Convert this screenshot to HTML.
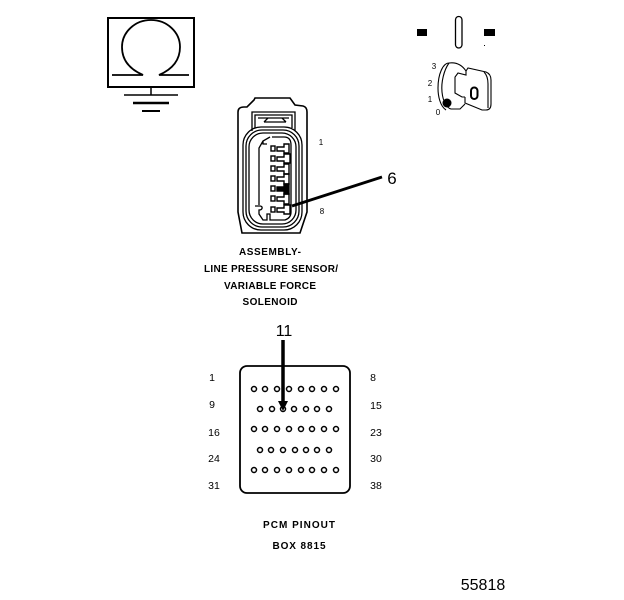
<!DOCTYPE html>
<html><head><meta charset="utf-8"><style>
html,body{margin:0;padding:0;background:#fff}
svg{display:block}
text{font-family:"Liberation Sans",sans-serif;fill:#000;stroke:none}
.l{font-size:10px;font-weight:bold;text-anchor:middle}
.n{font-size:10.500px;text-anchor:middle}
.s{font-size:8px;text-anchor:middle}
</style></head><body>
<svg width="624" height="600" viewBox="0 0 624 600" fill="none" stroke="#000">
<!-- Omega box -->
<rect x="108" y="18" width="86" height="69" stroke-width="2"/>
<path d="M112 75H143Q122 66 122 47A29 27 0 0 1 180 47Q180 66 159 75H189" stroke-width="1.800"/>
<path d="M151 87V95M124 95H178" stroke-width="1.500"/>
<path d="M133 103H169" stroke-width="2.500"/>
<path d="M142 111H160" stroke-width="2"/>
<!-- Key switch -->
<rect x="417" y="29" width="10" height="7" fill="#000" stroke="none"/>
<rect x="484" y="29" width="11" height="7" fill="#000" stroke="none"/>
<rect x="455.500" y="16.500" width="6.500" height="31.500" rx="3.200" stroke-width="1.300"/>
<rect x="484" y="45" width="1" height="1" fill="#000" stroke="none"/>
<g stroke-width="1.100">
<path d="M446 110C440 106 438 96 438 88C438 74 443 63 449 63C456 62 462 65 466 71"/>
<path d="M449 63C444 70 441 82 442 92C443 102 447 108 451 109L460 109L465 104"/>
<path d="M466 71L466 75L458 73L455 77V93L462 97H465"/>
<path d="M466 71L468 68L486 72Q491 74 491 80V104Q491 110 486 110H482L465 103V97"/>
<path d="M484 72Q488 76 488 84V108"/>
<rect x="471" y="87.500" width="6.500" height="11.500" rx="3.200" stroke-width="2"/>
</g>
<circle cx="447" cy="103" r="4.500" fill="#000" stroke="none"/>
<text class="s" x="434" y="69">3</text><text class="s" x="430" y="86">2</text>
<text class="s" x="430" y="102">1</text><text class="s" x="438" y="115">0</text>
<!-- Connector -->
<path d="M238 112Q238 107 244 107H247L254 100L255 98H290L295 105L303 106Q307 107 307 112V212L300 233H242L238 212Z" stroke-width="1.600"/>
<g stroke-width="1.300">
<path d="M252 131V112H295V131"/>
<path d="M255 128V115H292V128"/>
<path d="M258 118H289M264 122L268 118M282 118L286 122M264 122H286"/>
<rect x="243" y="127" width="59" height="103" rx="18"/>
<rect x="246" y="130" width="53" height="97" rx="16"/>
<rect x="249" y="133" width="47" height="91" rx="14"/>
<path d="M270 137L263 141V144H267M263 141L259 148V205M255 206H260C263 206 263 210 259 210V214L263 220H267V214H270V220H285Q291 218 291 212V145Q291 137 284 137H272"/>
</g>
<g stroke-width="1.400">
<rect x="271" y="146" width="4" height="5"/><path d="M277 147H284V144H289V153H284V151H277Z"/>
<rect x="271" y="156" width="4" height="5"/><path d="M277 157H284V154H290V163H284V161H277Z"/>
<rect x="271" y="166" width="4" height="5"/><path d="M277 167H284V164H289V174H284V171H277Z"/>
<rect x="271" y="176" width="4" height="5"/><path d="M277 177H284V174H289V184H284V181H277Z"/>
<rect x="271" y="186" width="4" height="5"/><path d="M277 187H284V184H289V194H284V191H277Z" fill="#000"/>
<rect x="271" y="196" width="4" height="5"/><path d="M277 197H284V194H289V204H284V201H277Z"/>
<rect x="271" y="207" width="4" height="5"/><path d="M277 208H284V205H290V214H284V212H277Z"/>
</g>
<path d="M292 206L382 177" stroke-width="2.800"/>
<text x="392" y="184" style="font-size:17px" text-anchor="middle">6</text>
<text class="s" x="321" y="145">1</text>
<text class="s" x="322" y="214">8</text>
<!-- Assembly label -->
<text class="l" x="270" y="255" textLength="62" lengthAdjust="spacing">ASSEMBLY-</text>
<text class="l" x="271" y="272" textLength="134" lengthAdjust="spacing">LINE PRESSURE SENSOR/</text>
<text class="l" x="270" y="289" textLength="92" lengthAdjust="spacing">VARIABLE FORCE</text>
<text class="l" x="270" y="305" textLength="55" lengthAdjust="spacing">SOLENOID</text>
<!-- PCM box -->
<rect x="240" y="366" width="110" height="127" rx="7" stroke-width="1.800"/>
<g stroke-width="1.500">
<circle cx="254" cy="389" r="2.500"/><circle cx="265" cy="389" r="2.500"/><circle cx="277" cy="389" r="2.500"/><circle cx="289" cy="389" r="2.500"/><circle cx="301" cy="389" r="2.500"/><circle cx="312" cy="389" r="2.500"/><circle cx="324" cy="389" r="2.500"/><circle cx="336" cy="389" r="2.500"/>
<circle cx="260" cy="409" r="2.500"/><circle cx="272" cy="409" r="2.500"/><circle cx="283" cy="409" r="2.500"/><circle cx="294" cy="409" r="2.500"/><circle cx="306" cy="409" r="2.500"/><circle cx="317" cy="409" r="2.500"/><circle cx="329" cy="409" r="2.500"/>
<circle cx="254" cy="429" r="2.500"/><circle cx="265" cy="429" r="2.500"/><circle cx="277" cy="429" r="2.500"/><circle cx="289" cy="429" r="2.500"/><circle cx="301" cy="429" r="2.500"/><circle cx="312" cy="429" r="2.500"/><circle cx="324" cy="429" r="2.500"/><circle cx="336" cy="429" r="2.500"/>
<circle cx="260" cy="450" r="2.500"/><circle cx="271" cy="450" r="2.500"/><circle cx="283" cy="450" r="2.500"/><circle cx="295" cy="450" r="2.500"/><circle cx="306" cy="450" r="2.500"/><circle cx="317" cy="450" r="2.500"/><circle cx="329" cy="450" r="2.500"/>
<circle cx="254" cy="470" r="2.500"/><circle cx="265" cy="470" r="2.500"/><circle cx="277" cy="470" r="2.500"/><circle cx="289" cy="470" r="2.500"/><circle cx="301" cy="470" r="2.500"/><circle cx="312" cy="470" r="2.500"/><circle cx="324" cy="470" r="2.500"/><circle cx="336" cy="470" r="2.500"/>
</g>
<path d="M283 340V403" stroke-width="3.500"/>
<path d="M278 401H288L283 411Z" fill="#000" stroke="none"/>
<text x="284" y="336" style="font-size:16px" text-anchor="middle">11</text>
<text class="n" x="212" y="381">1</text><text class="n" x="373" y="381">8</text>
<text class="n" x="212" y="408">9</text><text class="n" x="376" y="409">15</text>
<text class="n" x="214" y="436">16</text><text class="n" x="376" y="436">23</text>
<text class="n" x="214" y="462">24</text><text class="n" x="376" y="462">30</text>
<text class="n" x="214" y="489">31</text><text class="n" x="376" y="489">38</text>
<text class="l" x="299" y="528" textLength="72" lengthAdjust="spacing">PCM PINOUT</text>
<text class="l" x="299" y="549" textLength="53" lengthAdjust="spacing">BOX 8815</text>
<text x="483" y="590" style="font-size:16px" text-anchor="middle">55818</text>
</svg>
</body></html>
